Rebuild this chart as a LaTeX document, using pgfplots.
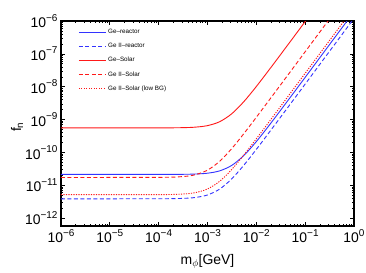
\documentclass[border=0pt]{standalone}
\usepackage{fontspec}
\setmainfont{Liberation Sans}
\usepackage{pgfplots}
\pgfplotsset{compat=1.18}
\definecolor{cblue}{rgb}{0.2,0.2,1}
\definecolor{cred}{rgb}{1,0.1,0.1}
\newcommand{\pe}[1]{10\raisebox{6.5bp}{\fontsize{10}{10}\selectfont #1}}
\begin{document}
\begin{tikzpicture}
\begin{axis}[name=ax,
  scale only axis, width=293bp, height=205bp,
  xmode=log, ymode=log,
  xmin=1e-6, xmax=1, ymin=5.8e-13, ymax=1e-6,
  axis line style={line width=1.1bp},
  tick align=inside, major tick length=4bp, minor tick length=2bp,
  tick style={black, line width=0.7bp},
  xtick={1e-6,1e-5,1e-4,1e-3,1e-2,1e-1,1},
  xticklabels={\pe{−6},\pe{−5},\pe{−4},\pe{−3},\pe{−2},\pe{−1},\pe{0}},
  ytick={1e-12,1e-11,1e-10,1e-9,1e-8,1e-7,1e-6},
  yticklabels={\pe{−12},\pe{−11},\pe{−10},\pe{−9},\pe{−8},\pe{−7},\pe{−6}},
  ticklabel style={font=\fontsize{14}{14}\selectfont},
  xlabel={m$_{\phi}$[GeV]},
  ylabel={f\textsubscript{n}},
  label style={font=\fontsize{14}{14}\selectfont},
  xlabel style={at={(axis description cs:0.5,-0.171)}, anchor=center},
  ylabel style={at={(axis description cs:-0.150,0.483)}, anchor=center, rotate=0},
  legend style={at={(axis description cs:0.055,0.975)}, anchor=north west, draw=none, fill=none,
    font=\fontsize{6.3}{7}\selectfont, row sep=4.2bp, inner sep=1bp},
  legend cell align=left,
  legend image code/.code={\draw[#1] (0bp,0bp) -- (27bp,0bp);},
  every axis plot/.append style={line width=0.9bp, smooth},
]
% Ge-reactor
\addplot[cblue] coordinates {
(1e-6,2.15e-11) (1e-4,2.152e-11) (3.162e-4,2.169e-11) (5.623e-4,2.211e-11) (1e-3,2.343e-11)
(1.778e-3,2.760e-11) (3.162e-3,4.08e-11) (5.623e-3,8.25e-11) (1e-2,2.145e-10) (1.778e-2,6.32e-10)
(3.162e-2,1.952e-9) (5.623e-2,6.12e-9) (0.1,1.93e-8) (0.1778,6.10e-8) (0.3162,1.93e-7) (0.5623,6.10e-7) (1,1.93e-6)};
\addlegendentry{Ge–reactor}
% Ge II-reactor
\addplot[cblue, dash pattern=on 4bp off 2.5bp] coordinates {
(1e-6,3.9e-12) (1e-4,3.912e-12) (3.162e-4,4.02e-12) (5.623e-4,4.28e-12) (1e-3,5.10e-12)
(1.778e-3,7.71e-12) (3.162e-3,1.594e-11) (5.623e-3,4.20e-11) (1e-2,1.243e-10) (1.778e-2,3.85e-10)
(3.162e-2,1.208e-9) (5.623e-2,3.81e-9) (0.1,1.204e-8) (0.1778,3.807e-8) (0.3162,1.204e-7) (0.5623,3.807e-7) (1,1.204e-6)};
\addlegendentry{Ge II–reactor}
% Ge-Solar
\addplot[cred] coordinates {
(1e-6,5.6e-10) (1e-4,5.61e-10) (3.162e-4,5.696e-10) (5.623e-4,5.904e-10) (1e-3,6.562e-10)
(1.778e-3,8.642e-10) (3.162e-3,1.522e-9) (5.623e-3,3.602e-9) (1e-2,1.018e-8) (1.778e-2,3.098e-8)
(3.162e-2,9.676e-8) (5.623e-2,3.042e-7) (0.1,9.62e-7) (0.1778,3.042e-6)};
\addlegendentry{Ge–Solar}
% Ge II-Solar
\addplot[cred, dash pattern=on 4bp off 2.5bp] coordinates {
(1e-6,1.74e-11) (1e-4,1.752e-11) (3.162e-4,1.856e-11) (5.623e-4,2.107e-11) (1e-3,2.90e-11)
(1.778e-3,5.41e-11) (3.162e-3,1.334e-10) (5.623e-3,3.842e-10) (1e-2,1.177e-9) (1.778e-2,3.685e-9)
(3.162e-2,1.16e-8) (5.623e-2,3.668e-8) (0.1,1.16e-7) (0.1778,3.668e-7) (0.3162,1.16e-6) (0.5623,3.668e-6)};
\addlegendentry{Ge II–Solar}
% Ge II-Solar (low BG)
\addplot[cred, dash pattern=on 1.2bp off 1.3bp] coordinates {
(1e-6,5.2e-12) (1e-4,5.226e-12) (3.162e-4,5.456e-12) (5.623e-4,6.01e-12) (1e-3,7.76e-12)
(1.778e-3,1.330e-11) (3.162e-3,3.08e-11) (5.623e-3,8.62e-11) (1e-2,2.614e-10) (1.778e-2,8.15e-10)
(3.162e-2,2.567e-9) (5.623e-2,8.10e-9) (0.1,2.562e-8) (0.1778,8.10e-8) (0.3162,2.562e-7) (0.5623,8.10e-7) (1,2.562e-6)};
\addlegendentry{Ge II–Solar (low BG)}
\end{axis}
\pgfresetboundingbox
\path[use as bounding box] ([shift={(-61bp,-47bp)}]ax.south west) rectangle ([shift={(12bp,21bp)}]ax.north east);
\end{tikzpicture}
\end{document}
